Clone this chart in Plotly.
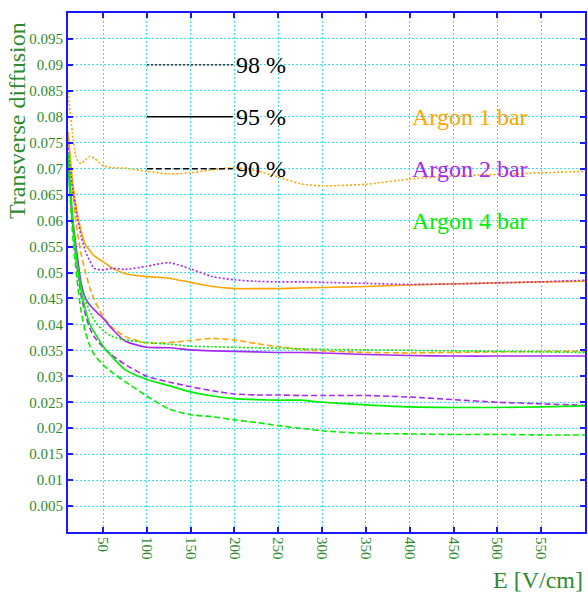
import plotly.graph_objects as go

# Electric field grid [V/cm]
E = [10, 15, 20, 25, 30, 35, 40, 50, 60, 75, 100, 125, 150, 175, 200,
     225, 250, 275, 300, 350, 400, 450, 500, 550, 600]

# Argon 1 bar
ar1_98 = [0.0848, 0.0770, 0.0718, 0.0710, 0.0718, 0.0724, 0.0720, 0.0706, 0.0702, 0.0701,
          0.0695, 0.0690, 0.0692, 0.0698, 0.0702, 0.0696, 0.0684, 0.0671, 0.0667, 0.0670,
          0.0680, 0.0686, 0.0689, 0.0692, 0.0695]
ar1_95 = [0.0771, 0.0680, 0.0620, 0.0580, 0.0553, 0.0542, 0.0532, 0.0521, 0.0509, 0.0498,
          0.0492, 0.0489, 0.0481, 0.0473, 0.0469, 0.0469, 0.0469, 0.0470, 0.0471, 0.0473,
          0.0476, 0.0478, 0.0480, 0.0482, 0.0483]
ar1_90 = [0.0765, 0.0660, 0.0585, 0.0535, 0.0500, 0.0470, 0.0448, 0.0415, 0.0395, 0.0377,
          0.0364, 0.0365, 0.0369, 0.0373, 0.0370, 0.0363, 0.0357, 0.0352, 0.0349, 0.0346,
          0.0345, 0.0346, 0.0347, 0.0348, 0.0348]

# Argon 2 bar
ar2_98 = [0.0740, 0.0665, 0.0610, 0.0570, 0.0540, 0.0522, 0.0508, 0.0505, 0.0508, 0.0506,
          0.0512, 0.0519, 0.0507, 0.0492, 0.0486, 0.0483, 0.0482, 0.0482, 0.0481, 0.0479,
          0.0477, 0.0478, 0.0480, 0.0482, 0.0485]
ar2_95 = [0.0720, 0.0610, 0.0540, 0.0480, 0.0450, 0.0437, 0.0428, 0.0412, 0.0392, 0.0368,
          0.0356, 0.0355, 0.0351, 0.0349, 0.0348, 0.0347, 0.0346, 0.0346, 0.0345, 0.0342,
          0.0340, 0.0339, 0.0339, 0.0339, 0.0339]
ar2_90 = [0.0720, 0.0600, 0.0515, 0.0455, 0.0418, 0.0392, 0.0376, 0.0356, 0.0341, 0.0323,
          0.0300, 0.0289, 0.0280, 0.0272, 0.0266, 0.0264, 0.0264, 0.0263, 0.0263, 0.0263,
          0.0260, 0.0255, 0.0250, 0.0247, 0.0244]

# Argon 4 bar
ar4_98 = [0.0710, 0.0600, 0.0525, 0.0475, 0.0445, 0.0425, 0.0408, 0.0388, 0.0377, 0.0370,
          0.0365, 0.0362, 0.0358, 0.0357, 0.0356, 0.0355, 0.0354, 0.0353, 0.0352, 0.0351,
          0.0350, 0.0349, 0.0348, 0.0347, 0.0346]
ar4_95 = [0.0730, 0.0610, 0.0525, 0.0465, 0.0428, 0.0400, 0.0385, 0.0358, 0.0338, 0.0313,
          0.0294, 0.0282, 0.0270, 0.0262, 0.0257, 0.0255, 0.0254, 0.0254, 0.0250, 0.0245,
          0.0241, 0.0240, 0.0240, 0.0241, 0.0243]
ar4_90 = [0.0710, 0.0580, 0.0490, 0.0425, 0.0385, 0.0358, 0.0342, 0.0322, 0.0308, 0.0290,
          0.0262, 0.0237, 0.0226, 0.0222, 0.0216, 0.0211, 0.0205, 0.0200, 0.0195, 0.0190,
          0.0189, 0.0188, 0.0188, 0.0187, 0.0187]

# Percentile key: sample segments and labels
key_x = [100, 198]
key_levels = [0.09, 0.08, 0.07]
key_labels = ["98 %", "95 %", "90 %"]

gas_labels = ["Argon 1 bar", "Argon 2 bar", "Argon 4 bar"]
gas_label_y = [0.08, 0.07, 0.06]

x_ticks = [50, 100, 150, 200, 250, 300, 350, 400, 450, 500, 550]
y_ticks = [0.005, 0.01, 0.015, 0.02, 0.025, 0.03, 0.035, 0.04, 0.045,
           0.05, 0.055, 0.06, 0.065, 0.07, 0.075, 0.08, 0.085, 0.09, 0.095]
y_ticktext = ["0.005", "0.01", "0.015", "0.02", "0.025", "0.03", "0.035", "0.04", "0.045",
              "0.05", "0.055", "0.06", "0.065", "0.07", "0.075", "0.08", "0.085", "0.09", "0.095"]

ORANGE = "#ffa500"
PURPLE = "#a82af0"
GREEN = "#00ee00"
TICKGREEN = "#2e8b2e"
AXISBLUE = "#1a1aff"
GRIDCYAN = "#33e0f0"
SERIF = "Liberation Serif, Times New Roman, serif"

DOT = "2px,2px"
DASH = "6px,3px"

fig = go.Figure()

series = [
    (ar1_98, ORANGE, DOT), (ar1_95, ORANGE, "solid"), (ar1_90, ORANGE, DASH),
    (ar2_98, PURPLE, DOT), (ar2_95, PURPLE, "solid"), (ar2_90, PURPLE, DASH),
    (ar4_98, GREEN, DOT), (ar4_95, GREEN, "solid"), (ar4_90, GREEN, DASH),
]
for ys, col, dash in series:
    fig.add_trace(go.Scatter(
        x=E, y=ys, mode="lines",
        line=dict(color=col, width=1.6, dash=dash, shape="spline", smoothing=0.6),
        showlegend=False, hoverinfo="skip"))

for lvl, dash in zip(key_levels, [DOT, "solid", DASH]):
    fig.add_trace(go.Scatter(
        x=key_x, y=[lvl, lvl], mode="lines",
        line=dict(color="black", width=1.4, dash=dash),
        showlegend=False, hoverinfo="skip"))

for lvl, txt in zip(key_levels, key_labels):
    fig.add_annotation(x=key_x[1], y=lvl, text=txt, showarrow=False,
                       xanchor="left", yanchor="middle", xshift=1,
                       font=dict(family=SERIF, size=24, color="black"))

for lvl, txt, col in zip(gas_label_y, gas_labels, [ORANGE, PURPLE, GREEN]):
    fig.add_annotation(x=400, y=lvl, text=txt, showarrow=False,
                       xanchor="left", yanchor="middle",
                       font=dict(family=SERIF, size=24, color=col))

# Axis titles
fig.add_annotation(xref="paper", yref="paper", x=0, y=0.792, text="Transverse diffusion",
                   textangle=-90, showarrow=False, xanchor="center", yanchor="middle",
                   xshift=-51, font=dict(family=SERIF, size=24, color=TICKGREEN))
fig.add_annotation(xref="paper", yref="paper", x=1, y=0, text="E [V/cm]",
                   showarrow=False, xanchor="right", yanchor="top", yshift=-33,
                   font=dict(family=SERIF, size=24, color=TICKGREEN))

axis_common = dict(
    showline=True, linecolor=AXISBLUE, linewidth=2, mirror="ticks",
    ticks="inside", ticklen=5, tickwidth=2, tickcolor=AXISBLUE,
    showgrid=True, gridcolor=GRIDCYAN, gridwidth=1, griddash=DOT,
    zeroline=False, tickfont=dict(family=SERIF, size=15, color=TICKGREEN),
)

fig.update_xaxes(range=[10, 600], tickvals=x_ticks, tickangle=90, **axis_common)
fig.update_yaxes(range=[0, 0.1], tickvals=y_ticks, ticktext=y_ticktext, **axis_common)

fig.update_layout(
    width=588, height=592,
    margin=dict(l=68, r=1, t=13, b=60),
    plot_bgcolor="white", paper_bgcolor="white",
)

fig.write_html("out.html")
